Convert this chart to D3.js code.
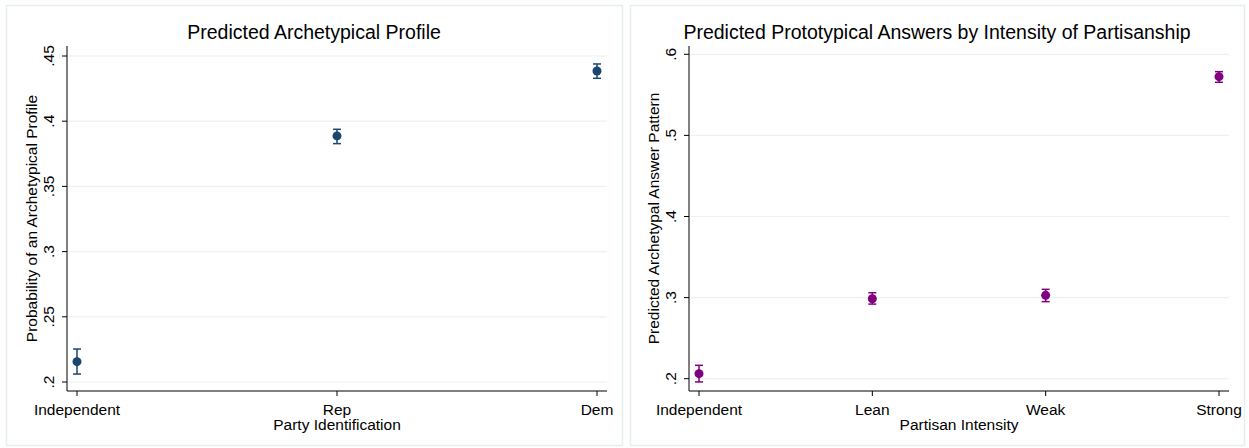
<!DOCTYPE html>
<html>
<head>
<meta charset="utf-8">
<script src="https://cdn.jsdelivr.net/npm/d3@7"></script>
<style>
  body { margin: 0; background: #fff; }
  svg { display: block; font-family: "Liberation Sans", Arial, sans-serif; }
</style>
</head>
<body>
<svg id="chart" width="1249" height="448"></svg>
<script>
// left panel data
var partyCats = ["Independent", "Rep", "Dem"];
var partyEst = [0.2156, 0.3887, 0.4385];
var partyLo = [0.2061, 0.3828, 0.4329];
var partyHi = [0.2253, 0.3938, 0.4439];
var partyTicks = [0.2, 0.25, 0.3, 0.35, 0.4, 0.45];

// right panel data
var intensCats = ["Independent", "Lean", "Weak", "Strong"];
var intensEst = [0.2062, 0.2986, 0.3028, 0.5724];
var intensLo = [0.1960, 0.2920, 0.2950, 0.5655];
var intensHi = [0.2165, 0.3060, 0.3102, 0.5786];
var intensTicks = [0.2, 0.3, 0.4, 0.5, 0.6];

var svg = d3.select("#chart");

function fmt(v) {
  // stata style: .25 instead of 0.25
  return d3.format("")(+v.toFixed(2)).replace(/^0\./, ".");
}

function drawPanel(opt) {
  var g = svg.append("g");

  // panel frame
  g.append("rect")
    .attr("x", opt.box[0] + 0.5).attr("y", opt.box[1] + 0.5)
    .attr("width", opt.box[2] - opt.box[0]).attr("height", opt.box[3] - opt.box[1])
    .attr("fill", "#fff").attr("stroke", "#e6eeee").attr("stroke-width", 1.5);

  var x = d3.scalePoint().domain(opt.cats).range(opt.xr);
  var y = d3.scaleLinear().domain(opt.yd).range(opt.yr);
  var x0 = opt.xr[0] - 10, x1 = opt.xr[1] + 10;
  var yBase = 391;

  // gridlines
  g.selectAll(".grid").data(opt.ticks).enter().append("line")
    .attr("x1", x0).attr("x2", x1)
    .attr("y1", function(d) { return y(d); }).attr("y2", function(d) { return y(d); })
    .attr("stroke", "#eaf2f3").attr("stroke-width", 1.2);

  // axes
  g.append("line").attr("x1", x0).attr("x2", x0).attr("y1", 46).attr("y2", yBase)
    .attr("stroke", "#000").attr("stroke-width", 1);
  g.append("line").attr("x1", x0).attr("x2", x1).attr("y1", yBase).attr("y2", yBase)
    .attr("stroke", "#000").attr("stroke-width", 1);

  // y ticks
  g.selectAll(".yt").data(opt.ticks).enter().append("line")
    .attr("x1", x0 - 5).attr("x2", x0)
    .attr("y1", function(d) { return y(d); }).attr("y2", function(d) { return y(d); })
    .attr("stroke", "#000");
  g.selectAll(".yl").data(opt.ticks).enter().append("text")
    .attr("transform", function(d) { return "translate(" + (x0 - 13) + "," + y(d) + ") rotate(-90)"; })
    .attr("text-anchor", "middle")
    .attr("font-size", 15.5)
    .text(fmt);

  // x ticks
  g.selectAll(".xt").data(opt.cats).enter().append("line")
    .attr("x1", function(d) { return x(d); }).attr("x2", function(d) { return x(d); })
    .attr("y1", yBase).attr("y2", yBase + 5)
    .attr("stroke", "#000");
  g.selectAll(".xl").data(opt.cats).enter().append("text")
    .attr("x", function(d) { return x(d); }).attr("y", 415)
    .attr("text-anchor", "middle").attr("font-size", 15.5)
    .text(function(d) { return d; });

  // titles
  g.append("text").attr("x", (opt.box[0] + opt.box[2]) / 2).attr("y", 39)
    .attr("text-anchor", "middle").attr("font-size", 19.5)
    .text(opt.title);
  g.append("text").attr("x", (x0 + x1) / 2).attr("y", 430)
    .attr("text-anchor", "middle").attr("font-size", 15.5)
    .text(opt.xTitle);
  g.append("text")
    .attr("transform", "translate(" + (x0 - 30) + "," + ((46 + yBase) / 2) + ") rotate(-90)")
    .attr("text-anchor", "middle").attr("font-size", 15.5)
    .text(opt.yTitle);

  // error bars
  var pts = opt.cats.map(function(c, i) {
    return { c: c, est: opt.est[i], lo: opt.lo[i], hi: opt.hi[i] };
  });
  var eb = g.selectAll(".eb").data(pts).enter().append("g").attr("stroke", opt.color).attr("stroke-width", 1.5);
  eb.append("line")
    .attr("x1", function(d) { return x(d.c); }).attr("x2", function(d) { return x(d.c); })
    .attr("y1", function(d) { return y(d.lo); }).attr("y2", function(d) { return y(d.hi); });
  eb.append("line")
    .attr("x1", function(d) { return x(d.c) - 4; }).attr("x2", function(d) { return x(d.c) + 4; })
    .attr("y1", function(d) { return y(d.lo); }).attr("y2", function(d) { return y(d.lo); });
  eb.append("line")
    .attr("x1", function(d) { return x(d.c) - 4; }).attr("x2", function(d) { return x(d.c) + 4; })
    .attr("y1", function(d) { return y(d.hi); }).attr("y2", function(d) { return y(d.hi); });

  g.selectAll(".pt").data(pts).enter().append("circle")
    .attr("cx", function(d) { return x(d.c); })
    .attr("cy", function(d) { return y(d.est); })
    .attr("r", 4.5)
    .attr("fill", opt.color);
}

drawPanel({
  box: [6, 5, 622, 445],
  cats: partyCats, est: partyEst, lo: partyLo, hi: partyHi, ticks: partyTicks,
  xr: [77, 597], yd: [0.2, 0.45], yr: [382, 56],
  color: "#1a476f",
  title: "Predicted Archetypical Profile",
  xTitle: "Party Identification",
  yTitle: "Probability of an Archetypical Profile"
});

drawPanel({
  box: [630, 5, 1244, 445],
  cats: intensCats, est: intensEst, lo: intensLo, hi: intensHi, ticks: intensTicks,
  xr: [699, 1219], yd: [0.2, 0.6], yr: [378.7, 54.3],
  color: "#800080",
  title: "Predicted Prototypical Answers by Intensity of Partisanship",
  xTitle: "Partisan Intensity",
  yTitle: "Predicted Archetypal Answer Pattern"
});
</script>
</body>
</html>
